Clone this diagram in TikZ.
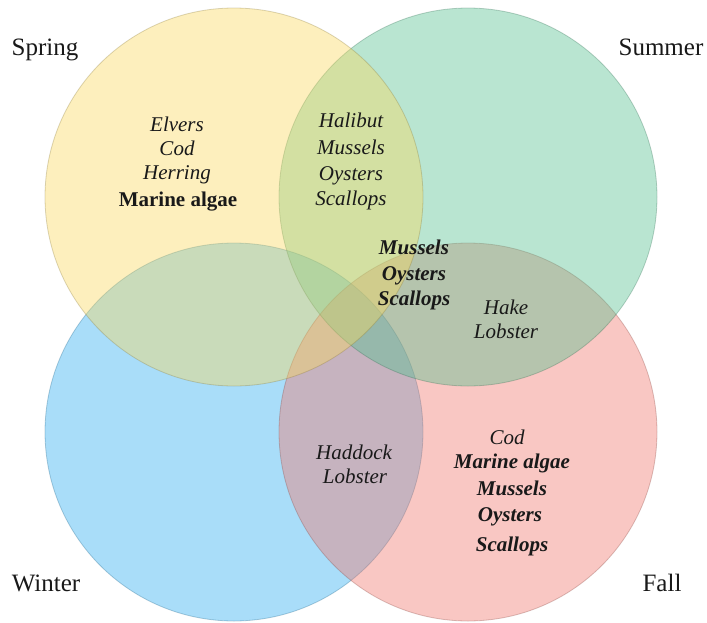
\documentclass[tikz,border=0pt]{standalone}
\usepackage{fontspec}
\setmainfont{Liberation Serif}
\definecolor{cspring}{RGB}{250,217,92}
\definecolor{csummer}{RGB}{80,192,142}
\definecolor{cwinter}{RGB}{42,172,242}
\definecolor{cfall}{RGB}{242,117,105}
\definecolor{ink}{RGB}{25,25,25}
\begin{document}
\begin{tikzpicture}[x=1pt,y=-1pt,
  ring/.style={circle, minimum size=378pt, inner sep=0pt, fill=#1, fill opacity=0.4,
    draw=#1!55!black, draw opacity=0.3, line width=0.8pt},
  season/.style={font=\fontsize{25}{28}\selectfont, inner sep=0pt, anchor=base, text=ink},
  itm/.style={font=\fontsize{21}{25}\selectfont\itshape, inner sep=0pt, anchor=base, text=ink},
  bitm/.style={font=\fontsize{21}{25}\selectfont\bfseries\itshape, inner sep=0pt, anchor=base, text=ink},
  bup/.style={font=\fontsize{21}{25}\selectfont\bfseries, inner sep=0pt, anchor=base, text=ink}]
\useasboundingbox (0,0) rectangle (707,622);
\fill[white] (0,0) rectangle (707,622);
% circles (bottom to top)
\node[ring=cwinter] (winter) at (234,432) {};
\node[ring=cfall]   (fall)   at (468,432) {};
\node[ring=csummer] (summer) at (468,197) {};
\node[ring=cspring] (spring) at (234,197) {};
% season labels
\node[season] (lsp) at (45,55) {Spring};
\node[season] (lsu) at (661,55) {Summer};
\node[season] (lwi) at (46,591) {Winter};
\node[season] (lfa) at (662,591) {Fall};
% spring only
\node[itm] (sp1) at (177,131) {Elvers};
\node[itm] (sp2) at (177,155) {Cod};
\node[itm] (sp3) at (177,179) {Herring};
\node[bup] (sp4) at (178,206) {Marine algae};
% spring & summer
\node[itm] (ss1) at (351,127) {Halibut};
\node[itm] (ss2) at (351,154) {Mussels};
\node[itm] (ss3) at (351,180) {Oysters};
\node[itm] (ss4) at (351,205) {Scallops};
% center
\node[bitm] (c1) at (414,254) {Mussels};
\node[bitm] (c2) at (414,280) {Oysters};
\node[bitm] (c3) at (414,305) {Scallops};
% summer & fall
\node[itm] (sf1) at (506,314) {Hake};
\node[itm] (sf2) at (506,338) {Lobster};
% winter & fall
\node[itm] (wf1) at (354,459) {Haddock};
\node[itm] (wf2) at (355,483) {Lobster};
% fall only
\node[itm]  (f1) at (507,444) {Cod};
\node[bitm] (f2) at (512,468) {Marine algae};
\node[bitm] (f3) at (512,495) {Mussels};
\node[bitm] (f4) at (510,521) {Oysters};
\node[bitm] (f5) at (512,551) {Scallops};
\end{tikzpicture}
\end{document}
